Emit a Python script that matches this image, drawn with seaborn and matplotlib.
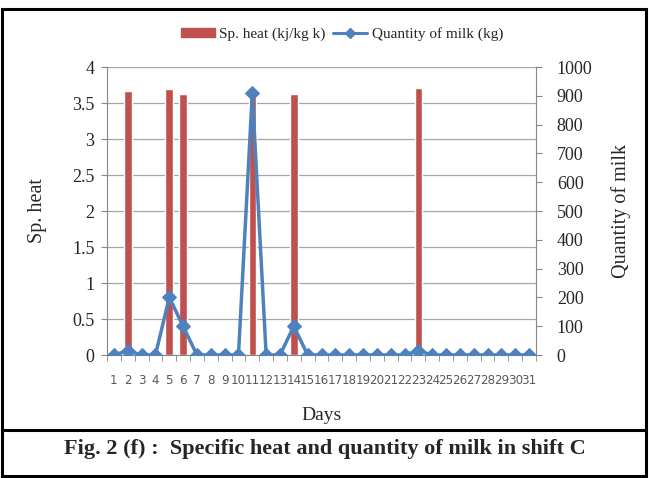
import numpy as np
import pandas as pd
import matplotlib
matplotlib.use("Agg")
import matplotlib.pyplot as plt
from matplotlib.patches import Patch
from matplotlib.lines import Line2D
import seaborn as sns

days = [str(d) for d in range(1, 32)]
sp_heat = [0, 3.67, 0, 0, 3.69, 3.62, 0, 0, 0, 0, 3.68, 0, 0, 3.63, 0, 0, 0, 0, 0, 0,
           0, 0, 3.71, 0, 0, 0, 0, 0, 0, 0, 0]
milk = [0, 15, 0, 0, 200, 100, 0, 0, 0, 0, 910, 0, 0, 100, 0, 0, 0, 0, 0, 0,
        0, 0, 15, 0, 0, 0, 0, 0, 0, 0, 0]
left_ticks = [0, 0.5, 1, 1.5, 2, 2.5, 3, 3.5, 4]
left_labels = ["0", "0.5", "1", "1.5", "2", "2.5", "3", "3.5", "4"]
right_ticks = list(range(0, 1001, 100))

sns.set_style("white")
plt.rcParams['font.family'] = ['Liberation Serif', 'DejaVu Serif']

RED = "#C0504D"
BLUE = "#4F81BD"
GRAY = "#868686"

df = pd.DataFrame({"day": days, "heat": sp_heat, "milk": milk})

fig = plt.figure(figsize=(6.49, 4.78), dpi=100)
ax = fig.add_axes([107/649, 1-355/478, (536-107)/649, (355-67)/478])

sns.barplot(data=df, x="day", y="heat", color=RED, width=0.55, saturation=1,
            ax=ax, zorder=2)
ax.set_ylim(0, 4)
ax.set_xlim(-0.5, 30.5)
ax.set_yticks(left_ticks)
ax.set_yticklabels(left_labels, fontsize=13)
ax.yaxis.grid(True, color="#A6A6A6", linewidth=0.9, zorder=0)
ax.set_axisbelow(True)
for s in ["top", "right"]:
    ax.spines[s].set_visible(False)
ax.spines["left"].set_color(GRAY)
ax.spines["bottom"].set_color(GRAY)
ax.tick_params(axis="y", which="both", left=True, length=4, color=GRAY, pad=5)
ax.tick_params(axis="x", which="major", length=0, labelsize=8.6, labelcolor="#595959", pad=14)
for lab in ax.get_xticklabels():
    lab.set_fontfamily("DejaVu Sans")
ax.set_xticks(np.arange(-0.5, 31, 1), minor=True)
ax.tick_params(axis="x", which="minor", bottom=True, length=4, color=GRAY)
ax.set_xlabel("Days", fontsize=14)
ax.xaxis.set_label_coords(0.5, -0.18)
ax.set_ylabel("Sp. heat", fontsize=14.5, labelpad=18)

ax2 = ax.twinx()
sns.lineplot(x=np.arange(len(days)), y=milk, color=BLUE, marker="D", markersize=7.5,
             markeredgecolor=BLUE, linewidth=2.5, ax=ax2, zorder=3)
ax2.set_ylim(0, 1000)
ax2.set_xlim(-0.5, 30.5)
ax2.set_yticks(right_ticks)
ax2.set_yticklabels([str(t) for t in right_ticks], fontsize=13)
for s in ["top", "left", "bottom"]:
    ax2.spines[s].set_visible(False)
ax2.spines["right"].set_color(GRAY)
ax2.tick_params(axis="y", right=True, length=4, color=GRAY, pad=11)
ax2.set_ylabel("Quantity of milk", fontsize=14.5, labelpad=13)

handles = [Patch(facecolor=RED, edgecolor=RED),
           Line2D([], [], color=BLUE, marker="D", markersize=5, linewidth=2.2)]
fig.legend(handles, ["Sp. heat (kj/kg k)", "Quantity of milk (kg)"],
           loc="center", bbox_to_anchor=(342/649, 1-34/478), ncol=2, frameon=False,
           fontsize=11, handlelength=2.2, handleheight=0.6, handletextpad=0.3,
           columnspacing=0.5)

# frame and caption box
fig.add_artist(plt.Rectangle((2/649, 2/478), 644/649, 467/478, transform=fig.transFigure,
                             fill=False, edgecolor="black", linewidth=2.2))
fig.add_artist(Line2D([2/649, 646/649], [1-430/478, 1-430/478], transform=fig.transFigure,
                      color="black", linewidth=2.2))
fig.text(0.5, 1-449/478, "Fig. 2 (f) :  Specific heat and quantity of milk in shift C",
         ha="center", va="center", fontsize=16, fontweight="bold")

fig.savefig("out.png", dpi=100)
